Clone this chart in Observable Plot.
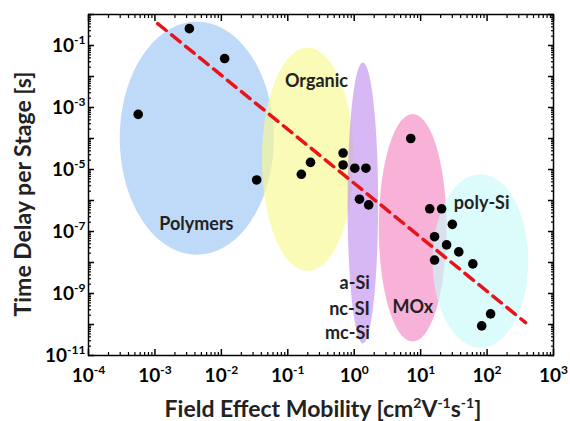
<!DOCTYPE html>
<html><head><meta charset="utf-8">
<script src="https://cdn.jsdelivr.net/npm/d3@7"></script>
<script src="https://cdn.jsdelivr.net/npm/@observablehq/plot@0.6"></script>
<style>html,body{margin:0;padding:0;background:#fff}#chart svg{display:block}</style>
</head><body><div id="chart"></div>
<script>
// Data points (field effect mobility [cm2/Vs], time delay per stage [s])
const mobility = [5.6e-4, 3.3e-3, 0.0112, 0.034, 0.16, 0.22, 0.68, 0.68, 1.02, 1.5, 1.2, 1.65, 7.1, 13.7, 20.7, 30, 16.2, 24.6, 37.5, 16.2, 61, 113, 83];
const delay    = [6e-4, 0.35, 0.038, 4.6e-6, 7e-6, 1.7e-5, 3.4e-5, 1.4e-5, 1.1e-5, 1.1e-5, 1.1e-6, 7.2e-7, 1.0e-4, 5.4e-7, 5.4e-7, 1.7e-7, 6.8e-8, 3.7e-8, 2.2e-8, 1.2e-8, 9e-9, 2.2e-10, 9e-11];

// Trend line endpoints
const trendMobility = [1.1e-3, 380];
const trendDelay = [0.51, 1.15e-10];

// Material regions (ellipses in log10 space)
const regionNames   = ["Polymers", "Organic", "a-Si", "MOx", "poly-Si"];
const regionCenterX = [-2.37, -0.70, 0.13, 0.88, 1.90];
const regionCenterY = [-3.99, -4.67, -6.08, -6.88, -7.95];
const regionRadiusX = [1.16, 0.69, 0.23, 0.51, 0.72];
const regionRadiusY = [3.76, 3.60, 4.53, 3.67, 2.80];
const regionColors  = ["#9cc6f5", "#f9f992", "#c292f0", "#f589c3", "#cafbfb"];

// Region labels
const labelText   = ["Polymers", "Organic", "a-Si", "nc-SI", "mc-Si", "MOx", "poly-Si"];
const labelX      = [4.2e-3, 0.27, 1.72, 1.72, 1.72, 7.6, 83];
const labelY      = [1.75e-7, 7e-3, 2.07e-9, 3.2e-10, 5.1e-11, 3.5e-10, 8.3e-7];
const labelAnchor = ["middle", "middle", "end", "end", "end", "middle", "middle"];

// Axis ticks
const xExponents = [-4, -3, -2, -1, 0, 1, 2, 3];
const yExponents = [-11, -10, -9, -8, -7, -6, -5, -4, -3, -2, -1, 0];
const yLabelExponents = [-11, -9, -7, -5, -3, -1];
const minorMultipliers = [2, 3, 4, 5, 6, 7, 8, 9];

const xTitle = "Field Effect Mobility [cm^2V^-1s^-1]";
const yTitle = "Time Delay per Stage [s]";

// ---- build tables ----
const points = mobility.map((m, i) => ({x: m, y: delay[i]}));
const trend = trendMobility.map((m, i) => ({x: m, y: trendDelay[i]}));
const labels = labelText.map((t, i) => ({t, x: labelX[i], y: labelY[i], a: labelAnchor[i]}));
const ellipses = regionNames.map((name, i) => d3.range(0, 73).map(k => {
  const a = 2 * Math.PI * k / 72;
  return {x: 10 ** (regionCenterX[i] + regionRadiusX[i] * Math.cos(a)),
          y: 10 ** (regionCenterY[i] + regionRadiusY[i] * Math.sin(a))};
}));
const xMajor = xExponents.map(e => 10 ** e);
const yMajor = yExponents.map(e => 10 ** e);
const yLabeled = yLabelExponents.map(e => 10 ** e);
const xMinor = xExponents.slice(0, -1).flatMap(e => minorMultipliers.map(m => m * 10 ** e));
const yMinor = yExponents.slice(0, -1).flatMap(e => minorMultipliers.map(m => m * 10 ** e));
const expFmt = d => "10^" + Math.round(Math.log10(d));
const blank = () => "";

const tickMarks = [];
for (const anchor of ["bottom", "top"]) {
  tickMarks.push(Plot.axisX(xMajor, {anchor, tickSize: -6, tickFormat: blank, label: null, strokeWidth: 1.5}));
  tickMarks.push(Plot.axisX(xMinor, {anchor, tickSize: -3, tickFormat: blank, label: null, strokeWidth: 1.2}));
}
for (const anchor of ["left", "right"]) {
  tickMarks.push(Plot.axisY(yMajor, {anchor, tickSize: -6, tickFormat: blank, label: null, strokeWidth: 1.5}));
  tickMarks.push(Plot.axisY(yMinor, {anchor, tickSize: -3, tickFormat: blank, label: null, strokeWidth: 1.2}));
}
const labelMarks = ["middle", "end"].map(anchor =>
  Plot.text(labels.filter(d => d.a === anchor), {x: "x", y: "y", text: "t", textAnchor: anchor, fontSize: 18, fontWeight: "bold", fill: "#222"}));

const chart = Plot.plot({
  width: 570, height: 421,
  marginLeft: 88, marginRight: 17, marginTop: 14, marginBottom: 66,
  style: {fontFamily: "Lato, 'Open Sans', sans-serif", background: "white", color: "black"},
  x: {type: "log", domain: [1e-4, 1e3]},
  y: {type: "log", domain: [1e-11, 1]},
  marks: [
    ...ellipses.map((pts, i) => Plot.line(pts, {x: "x", y: "y", curve: "linear-closed", fill: regionColors[i], fillOpacity: 0.65, stroke: "none"})),
    Plot.line(trend, {x: "x", y: "y", stroke: "#e8141c", strokeWidth: 3.5, strokeDasharray: "11,7"}),
    Plot.dot(points, {x: "x", y: "y", r: 4.8, fill: "black", stroke: "none"}),
    ...labelMarks,
    ...tickMarks,
    Plot.axisX(xMajor, {anchor: "bottom", tickSize: 0, tickPadding: 13, tickFormat: expFmt, label: null, fontSize: 19, fontWeight: "bold"}),
    Plot.axisY(yLabeled, {anchor: "left", tickSize: 0, tickPadding: 3, tickFormat: expFmt, label: null, fontSize: 19, fontWeight: "bold"}),
    Plot.frame({stroke: "black", strokeWidth: 1.5}),
    Plot.text([xTitle], {frameAnchor: "bottom", dx: 2, dy: 61, text: d => d, textAnchor: "middle", lineAnchor: "bottom", fontSize: 23, fontWeight: "bold", fill: "#222"}),
    Plot.text([yTitle], {frameAnchor: "left", dx: -65, dy: 9, rotate: -90, text: d => d, textAnchor: "middle", lineAnchor: "middle", fontSize: 23, fontWeight: "bold", fill: "#222"})
  ]
});

// superscripts: "a^b" -> tspan raised
const NS = "http://www.w3.org/2000/svg";
chart.querySelectorAll("text").forEach(el => {
  const s = el.textContent;
  if (!s.includes("^")) return;
  const big = parseFloat(el.getAttribute("font-size") || el.parentNode.getAttribute("font-size") || "19") > 20;
  const supPx = big ? 14 : 12, rise = big ? 9 : 8;
  const parts = s.split(/\^(-?\d+)/);
  while (el.firstChild) el.removeChild(el.firstChild);
  let up = false;
  parts.forEach((p, i) => {
    if (!p) return;
    const ts = document.createElementNS(NS, "tspan");
    ts.textContent = p;
    if (i % 2) {
      ts.setAttribute("font-size", supPx);
      if (!up) { ts.setAttribute("dy", -rise); up = true; }
    } else if (up) {
      ts.setAttribute("dy", rise); up = false;
    }
    el.appendChild(ts);
  });
});
document.getElementById("chart").appendChild(chart);
</script>
</body></html>
